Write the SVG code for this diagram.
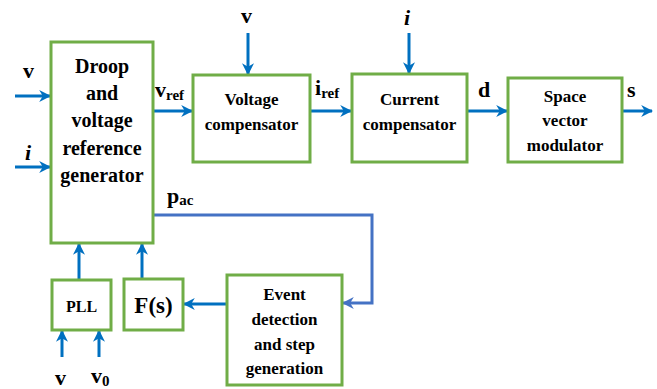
<svg xmlns="http://www.w3.org/2000/svg" width="657" height="389" viewBox="0 0 657 389">
<defs>
<marker id="ah" viewBox="0 0 10 10" refX="9" refY="5" markerWidth="4" markerHeight="4" orient="auto" markerUnits="strokeWidth"><path d="M0,0 L10,5 L0,10 L3,5 z" fill="#0070C0"/></marker>
<marker id="ah2" viewBox="0 0 10 10" refX="9" refY="5" markerWidth="4" markerHeight="4" orient="auto" markerUnits="strokeWidth"><path d="M0,0 L10,5 L0,10 L3,5 z" fill="#4472C4"/></marker>
</defs>
<rect width="657" height="389" fill="#fff"/>
<g id="connectors" fill="none" stroke="#0070C0" stroke-width="3" marker-end="url(#ah)">
<line x1="15" y1="96" x2="50" y2="96"/>
<line x1="15" y1="167" x2="50" y2="167"/>
<line x1="153" y1="111" x2="192" y2="111"/>
<line x1="248" y1="33" x2="248" y2="74"/>
<line x1="310" y1="111" x2="351" y2="111"/>
<line x1="409" y1="33" x2="409" y2="73"/>
<line x1="467" y1="111" x2="507" y2="111"/>
<line x1="622" y1="111" x2="652" y2="111"/>
<polyline points="153,215 372,215 372,303 343,303" stroke="#4472C4" marker-end="url(#ah2)"/>
<line x1="227" y1="304" x2="184" y2="304"/>
<line x1="79" y1="280" x2="79" y2="244"/>
<line x1="142" y1="279" x2="142" y2="244"/>
<line x1="62" y1="357" x2="62" y2="331"/>
<line x1="99" y1="357" x2="99" y2="331"/>
</g>
<g id="boxes" fill="#fff" stroke="#70AD47" stroke-width="3">
<rect id="droop-box" x="51" y="42" width="102" height="201"/>
<rect id="voltage-box" x="193" y="75" width="117" height="87"/>
<rect id="current-box" x="352" y="74" width="115" height="88"/>
<rect id="svm-box" x="508" y="78" width="114" height="84"/>
<rect id="pll-box" x="52" y="280" width="59" height="50"/>
<rect id="fs-box" x="124" y="279" width="59" height="51"/>
<rect id="event-box" x="227" y="275" width="115" height="110"/>
</g>
<g font-family="Liberation Serif" font-weight="bold" fill="#000" text-anchor="middle">
<g id="droop" font-size="20">
<text x="102" y="73">Droop</text>
<text x="102" y="100">and</text>
<text x="102" y="127">voltage</text>
<text x="102" y="155">reference</text>
<text x="102" y="182">generator</text>
</g>
<g id="voltage" font-size="17">
<text x="251.5" y="105">Voltage</text>
<text x="251.5" y="130">compensator</text>
</g>
<g id="current" font-size="17">
<text x="409.5" y="105">Current</text>
<text x="409.5" y="130">compensator</text>
</g>
<g id="svm" font-size="17">
<text x="565" y="102">Space</text>
<text x="565" y="126">vector</text>
<text x="565" y="151">modulator</text>
</g>
<g id="pll" font-size="16">
<text x="81.5" y="312">PLL</text>
</g>
<g id="fs" font-size="23">
<text x="153.5" y="313">F(s)</text>
</g>
<g id="event" font-size="17">
<text x="284.5" y="300">Event</text>
<text x="284.5" y="325">detection</text>
<text x="284.5" y="350">and step</text>
<text x="284.5" y="374">generation</text>
</g>
</g>
<g id="labels" font-family="Liberation Serif" font-weight="bold" fill="#000" font-size="22">
<text x="23" y="78">v</text>
<text x="25" y="160" font-style="italic">i</text>
<text x="241" y="23">v</text>
<text x="404" y="25" font-style="italic">i</text>
<text x="155" y="97">v<tspan font-size="15" dy="3">ref</tspan></text>
<text x="315" y="95">i<tspan font-size="15" dy="3">ref</tspan></text>
<text x="167" y="203">p<tspan font-size="15" dy="2">ac</tspan></text>
<text x="478" y="97">d</text>
<text x="627" y="97">s</text>
<text x="55" y="385">v</text>
<text x="91" y="383">v<tspan font-size="15" dy="3">0</tspan></text>
</g>
</svg>
